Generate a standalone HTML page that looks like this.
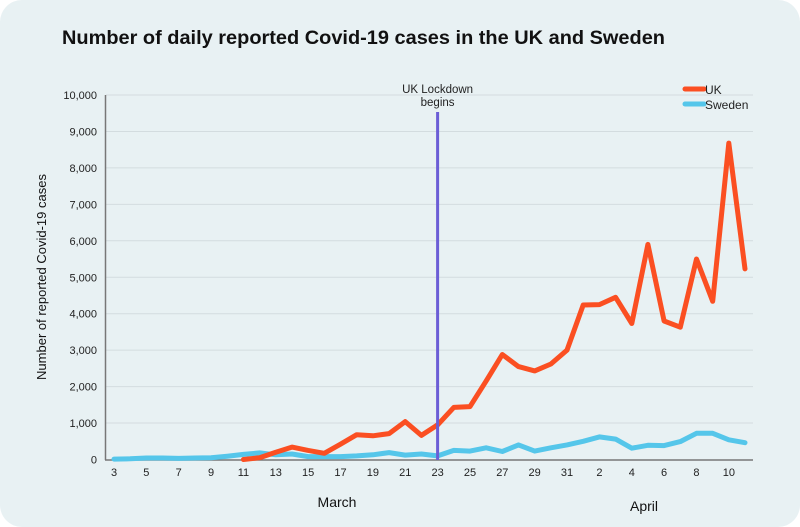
<!DOCTYPE html>
<html><head><meta charset="utf-8">
<style>
html,body{margin:0;padding:0;background:#fff;}
body{width:800px;height:527px;overflow:hidden;font-family:"Liberation Sans",sans-serif;}
.card{position:absolute;left:0;top:0;width:800px;height:527px;background:#e8f1f3;border-radius:22px;}
</style></head>
<body>
<div class="card"></div>
<svg id="chart" width="800" height="527" style="position:absolute;left:0;top:0">
<text x="62" y="44" font-size="19" font-weight="bold" fill="#111" textLength="603" lengthAdjust="spacingAndGlyphs">Number of daily reported Covid-19 cases in the UK and Sweden</text>
<text transform="translate(46,277) rotate(-90)" text-anchor="middle" font-size="13" fill="#111">Number of reported Covid-19 cases</text>
<g id="grid"></g><g id="series"></g>
</svg>
<script>
const dayLabels=[3,4,5,6,7,8,9,10,11,12,13,14,15,16,17,18,19,20,21,22,23,24,25,26,27,28,29,30,31,1,2,3,4,5,6,7,8,9,10,11];
const ukValues=[null,null,null,null,null,null,null,null,0,50,200,340,250,170,420,680,650,710,1040,660,950,1430,1450,2150,2880,2550,2430,2620,3000,4240,4250,4450,3730,5900,3800,3630,5500,4340,8680,5230];
const swedenValues=[10,20,40,40,30,40,50,90,140,180,130,150,80,80,80,100,130,190,120,150,100,250,230,320,220,400,230,320,400,500,620,560,310,390,380,490,720,720,540,460];
const yTicks=[0,1000,2000,3000,4000,5000,6000,7000,8000,9000,10000];
const yTickLabels=["0","1,000","2,000","3,000","4,000","5,000","6,000","7,000","8,000","9,000","10,000"];
const lockdownIndex=20;
const NS="http://www.w3.org/2000/svg";
const x=i=>114+i*16.18;
const y=v=>459.5-v*0.03645;
const grid=document.getElementById('grid'), ser=document.getElementById('series');
function mk(tag,attrs,parent){const e=document.createElementNS(NS,tag);for(const k in attrs)e.setAttribute(k,attrs[k]);parent.appendChild(e);return e;}
yTicks.forEach((t,i)=>{
  if(t>0){const l=mk('line',{x1:106,x2:753,y1:y(t),y2:y(t),stroke:'#d3dcdf','stroke-width':1},grid);
  
  }
  const tx=mk('text',{x:97,y:y(t)+4,'text-anchor':'end','font-size':11,fill:'#222'},grid);
  tx.textContent=yTickLabels[i];
  
  
});
const ax=mk('line',{x1:105.5,x2:105.5,y1:95,y2:460,stroke:'#777','stroke-width':1.5},grid);


const bx=mk('line',{x1:105,x2:753,y1:460,y2:460,stroke:'#777','stroke-width':1.5},grid);


dayLabels.forEach((d,i)=>{ if(i%2===0){
  const t=mk('text',{x:x(i),y:476,'text-anchor':'middle','font-size':11,fill:'#222'},grid);
  t.textContent=d;
  
  }});
const m1=mk('text',{x:337,y:507,'text-anchor':'middle','font-size':14,fill:'#111'},grid);m1.textContent='March';


const m2=mk('text',{x:644,y:511,'text-anchor':'middle','font-size':14,fill:'#111'},grid);m2.textContent='April';


function path(vals,color,name){let d='';let pen=false;vals.forEach((v,i)=>{if(v===null){pen=false;return;}d+=(pen?'L':'M')+x(i).toFixed(1)+','+y(v).toFixed(1);pen=true;});
  const p=mk('path',{d:d,fill:'none',stroke:color,'stroke-width':5,'stroke-linejoin':'round','stroke-linecap':'round'},ser);
  
  }
path(swedenValues,'#55c6ea','sweden-line');
path(ukValues,'#fb4f22','uk-line');
const ll=mk('line',{x1:x(lockdownIndex),x2:x(lockdownIndex),y1:112,y2:460,stroke:'#6b5ed6','stroke-width':3},ser);


const lt1=mk('text',{x:x(lockdownIndex),y:93,'text-anchor':'middle','font-size':11.5,fill:'#222'},ser);lt1.textContent='UK Lockdown';


const lt2=mk('text',{x:x(lockdownIndex),y:106,'text-anchor':'middle','font-size':11.5,fill:'#222'},ser);lt2.textContent='begins';


[['UK','#fb4f22',89],['Sweden','#55c6ea',104]].forEach(([n,c,yy])=>{
  const l=mk('line',{x1:685,x2:704,y1:yy,y2:yy,stroke:c,'stroke-width':5,'stroke-linecap':'round'},ser);
  
  
  const t=mk('text',{x:705,y:yy+5,'font-size':12,fill:'#222'},ser);t.textContent=n;
  
  
});
</script>
</body></html>
